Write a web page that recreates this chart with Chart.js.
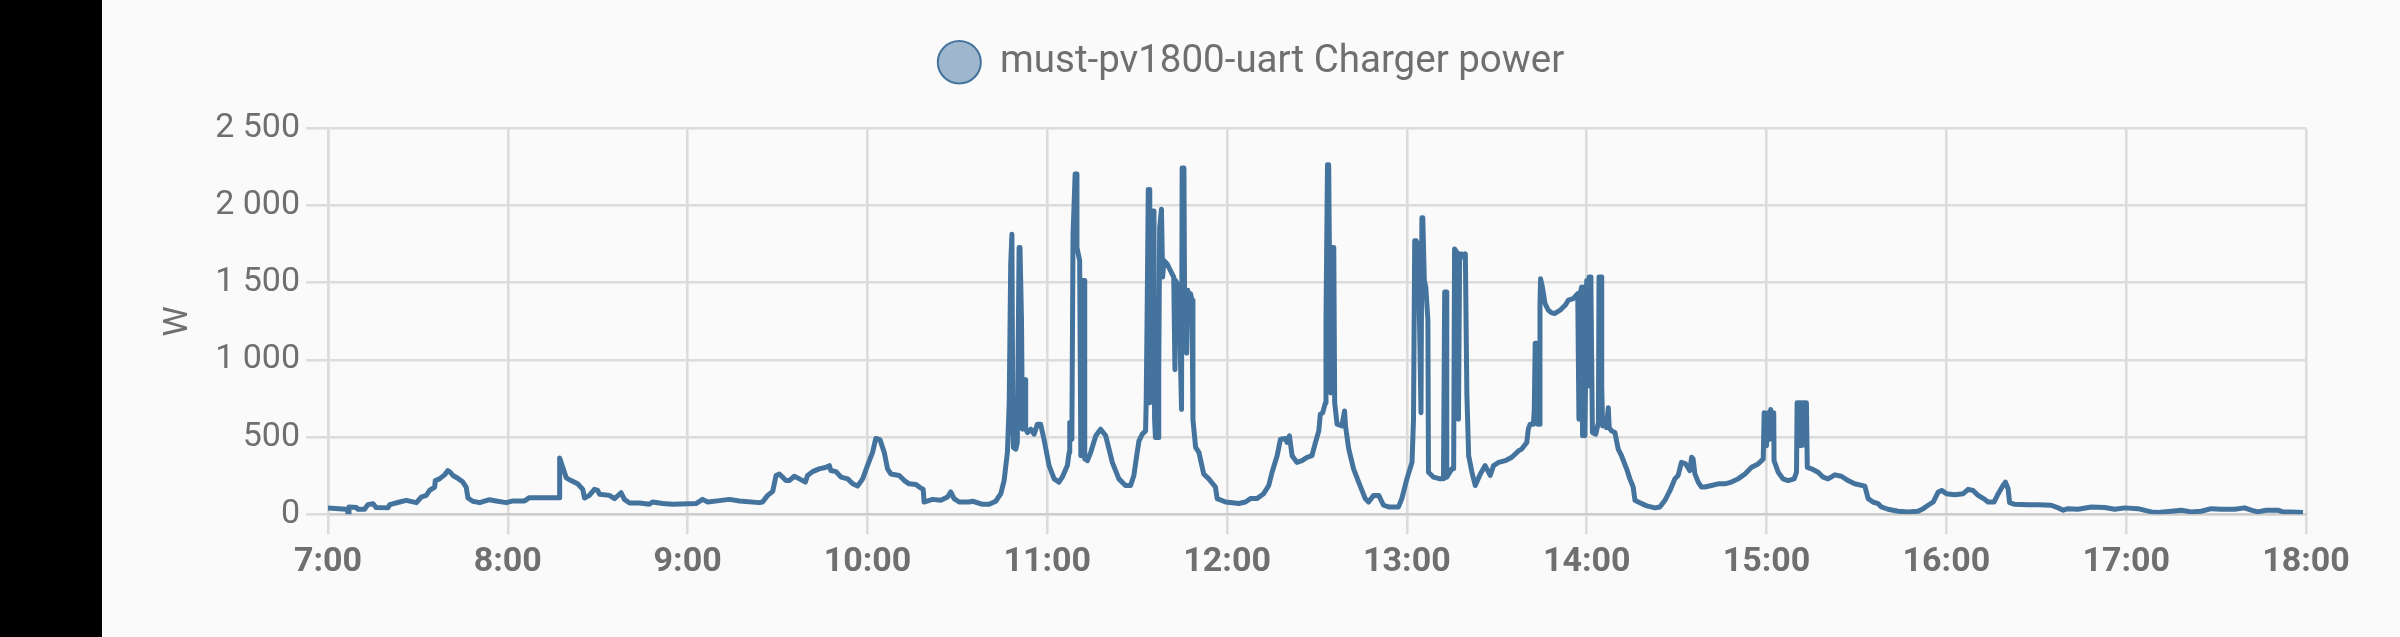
<!DOCTYPE html>
<html>
<head>
<meta charset="utf-8">
<script src="https://cdn.jsdelivr.net/npm/chart.js@4.4.1/dist/chart.umd.min.js"></script>
<style>
  html, body { margin: 0; padding: 0; background: #fafafa; width: 2400px; height: 637px; overflow: hidden; }
  #strip { position: absolute; left: 0; top: 0; width: 102px; height: 637px; background: #000; }
  #wrap { position: absolute; left: 102px; top: 0; width: 2298px; height: 637px; }
</style>
</head>
<body>
<div id="strip"></div>
<div id="wrap"><canvas id="c" width="2298" height="637"></canvas></div>
<script>
// Minutes after 7:00 for each reading
const minutes = [
  0, 6.1, 6.5, 6.7, 7.0, 9.5, 10, 12.2, 13.3, 15, 16.1, 20, 20.6, 23.9, 26.1, 29.5, 31.1, 32.8, 33.9, 35.6,
  35.8, 37.2, 38.9, 40, 40.8, 41.7, 43.3, 45, 46.1, 46.7, 48.3, 50.6, 53.9, 56.1, 59.5, 61.7, 65.6, 67.2, 77.2, 77.3,
  79.5, 81.1, 83.3, 85, 85.6, 87.2, 88.9, 90, 90.6, 93.9, 95.6, 97.8, 98.9, 100.6, 104, 107.2, 108.3, 111.7, 115, 122.8,
  125, 126.7, 130.6, 133.9, 137.3, 143.9, 145, 146.7, 148.4, 149.5, 150.6, 152.8, 153.9, 155.6, 157.3, 159.3, 160, 161.7, 163.9, 166.2,
  167.3, 167.8, 169.5, 171.2, 173.4, 175.1, 176.7, 178.4, 180.0, 181.7, 182.8, 184.2, 185.6, 186.7, 187.8, 190.6, 192.3, 193.9, 196.2, 197.3,
  198.6, 198.9, 201.7, 204.5, 206.7, 207.8, 208.9, 210.6, 213.9, 215.1, 218.4, 220.6, 222.8, 224.5, 225.6, 226.7, 227.3, 227.8, 228.2, 228.5,
  228.7, 229.5, 230.0, 230.6, 230.9, 231.4, 231.7, 232.3, 232.6, 232.8, 233.4, 234.5, 235.6, 236.7, 237.8, 238.9, 240.6, 242.3, 243.9, 245.0,
  246.7, 247.3, 247.5, 248.2, 248.6, 249.3, 249.7, 249.9, 250.8, 251.2, 251.5, 252.3, 252.5, 253.4, 254.5, 256.2, 257.8, 259.5, 261.7, 263.9,
  266.1, 267.8, 268.9, 270, 270.6, 271.7, 272.8, 273.0, 273.3, 273.7, 274.1, 274.2, 274.7, 275.0, 275.6, 275.8, 276.1, 277.0, 277.2, 277.5,
  278.1, 278.5, 278.9, 280.0, 281.1, 282.2, 282.6, 282.8, 283.9, 284.8, 285.0, 285.6, 285.8, 286.5, 286.9, 287.5, 287.8, 288.3, 288.6, 289.5,
  290.6, 292.2, 293.9, 296.1, 296.7, 299.5, 303.9, 306.1, 307.8, 310.0, 312.2, 313.9, 315.0, 316.7, 317.8, 319.5, 320.0, 320.8, 321.7, 323.3,
  325.0, 326.7, 328.3, 329.5, 330.6, 331.1, 331.9, 332.8, 333.0, 333.5, 333.9, 334.1, 334.6, 335.0, 335.6, 335.9, 336.7, 338.3, 339.2, 339.5,
  340.6, 342.2, 343.9, 346.1, 347.2, 348.9, 350.6, 352.2, 353.9, 357.2, 358.3, 360.0, 361.7, 362.2, 362.6, 363.1, 363.6, 364.2, 364.7, 365.0,
  365.3, 365.8, 366.3, 367.0, 367.2, 368.9, 371.1, 372.2, 372.6, 373.1, 373.3, 375.0, 375.6, 375.9, 376.7, 377.2, 377.6, 378.3, 378.9, 379.5,
  380.0, 380.6, 381.7, 382.8, 384.5, 386.1, 387.8, 388.9, 390.6, 392.8, 395.0, 397.2, 398.3, 400.0, 400.5, 401.1, 402.2, 402.5, 402.8, 403.3,
  403.6, 404.1, 404.4, 404.6, 405.2, 406.1, 407.2, 408.3, 409.4, 411.1, 412.8, 413.9, 415.5, 417.0, 417.4, 417.8, 418.3, 418.6, 419.1, 419.4,
  420.0, 420.3, 420.8, 421.1, 421.4, 421.9, 423.0, 423.9, 424.1, 424.8, 425.0, 425.3, 426.1, 426.6, 427.2, 427.5, 428.3, 429.4, 430.5, 431.6,
  433.3, 434.4, 435.5, 436.1, 437.2, 440.0, 442.8, 444.4, 446.1, 447.8, 449.4, 450.5, 451.6, 453.0, 454.4, 455.0, 455.5, 456.1, 457.2, 458.3,
  459.4, 461.6, 463.9, 466.1, 468.3, 470.5, 472.8, 475.0, 477.2, 478.9, 479.2, 480.0, 480.5, 481.1, 481.4, 481.9, 482.4, 482.5, 483.9, 485.5,
  487.2, 489.2, 490.0, 490.2, 490.5, 490.8, 491.4, 491.6, 492.0, 492.8, 493.0, 493.3, 493.6, 495.0, 497.2, 498.9, 500.5, 502.8, 505.0, 507.2,
  509.4, 512.8, 513.9, 515.5, 517.2, 518.3, 520.5, 523.9, 527.2, 530.5, 532.3, 533.9, 535.6, 537.3, 538.4, 540.0, 542.8, 545.6, 547.3, 548.9,
  550.6, 552.8, 553.9, 555.9, 557.3, 558.9, 559.7, 560.6, 561.1, 562.8, 567.3, 570.6, 575.0, 577.3, 579.0, 580.6, 583.9, 588.4, 592.8, 596.2,
  599.5, 603.9, 608.4, 610.6, 615.1, 618.4, 621.7, 625.0, 628.4, 631.7, 636.2, 639.5, 641.7, 643.9, 646.7, 650.6, 652.3, 655.0, 659.0
];
// Charger power, W
const watts = [
  41, 32, 32, 0, 47, 43, 32, 32, 62, 68, 43, 41, 62, 79, 90, 75, 111, 122, 154, 176,
  218, 229, 255, 283, 272, 251, 233, 208, 176, 105, 84, 75, 94, 86, 75, 86, 86, 107, 107, 364,
  236, 218, 197, 161, 105, 122, 161, 154, 129, 122, 101, 139, 96, 73, 73, 64, 79, 69, 64, 69,
  96, 79, 88, 96, 86, 75, 79, 122, 148, 251, 261, 218, 218, 246, 229, 208, 251, 276, 294, 304,
  315, 283, 276, 240, 229, 197, 182, 229, 315, 401, 491, 482, 401, 294, 261, 251, 218, 197, 193, 176,
  161, 79, 96, 90, 111, 144, 101, 79, 79, 84, 64, 64, 84, 133, 218, 401, 722, 1622, 1815, 615,
  433, 422, 465, 1729, 1729, 1258, 551, 829, 872, 551, 529, 551, 519, 583, 583, 486, 315, 229, 208, 240,
  315, 401, 594, 486, 1815, 2205, 2205, 1729, 1644, 379, 1515, 1515, 358, 347, 401, 508, 551, 508, 336, 229,
  186, 186, 251, 401, 476, 519, 540, 722, 1258, 2104, 2104, 722, 1044, 1965, 1965, 615, 497, 497, 915, 1858,
  1976, 1537, 1644, 1622, 1579, 1537, 936, 1515, 1472, 679, 2244, 2244, 1451, 1044, 1451, 1279, 1429, 1387, 615, 433,
  401, 261, 229, 176, 101, 79, 69, 79, 101, 101, 133, 186, 272, 379, 486, 491, 465, 508, 379, 336,
  347, 369, 379, 465, 540, 647, 658, 722, 1258, 2265, 2265, 1794, 786, 1729, 1729, 722, 583, 572, 669, 572,
  422, 294, 208, 101, 79, 122, 122, 58, 47, 47, 101, 229, 336, 615, 1772, 1772, 1751, 1258, 658, 1922,
  1922, 1515, 1472, 1258, 272, 240, 229, 229, 1440, 1440, 240, 294, 294, 1719, 1697, 615, 1687, 1687, 1665, 1687,
  786, 379, 272, 186, 261, 315, 251, 315, 336, 347, 369, 410, 422, 465, 551, 583, 583, 679, 1108, 1108,
  583, 583, 1365, 1526, 1472, 1365, 1322, 1305, 1301, 1322, 1354, 1387, 1397, 1429, 615, 1429, 1472, 508, 1472, 508,
  1515, 829, 1537, 1537, 1472, 529, 519, 594, 1537, 1537, 829, 572, 594, 561, 690, 561, 540, 529, 422, 379,
  294, 229, 176, 90, 79, 54, 41, 47, 90, 154, 229, 251, 336, 326, 283, 369, 358, 261, 208, 176,
  176, 186, 197, 197, 208, 229, 261, 304, 326, 358, 658, 444, 658, 486, 679, 508, 658, 347, 272, 229,
  218, 229, 272, 722, 444, 722, 722, 444, 722, 722, 444, 722, 304, 294, 272, 240, 229, 255, 246, 218,
  197, 182, 101, 79, 69, 47, 32, 19, 15, 19, 36, 58, 79, 144, 154, 133, 126, 133, 161, 154,
  122, 96, 79, 79, 133, 186, 208, 165, 75, 64, 62, 62, 58, 41, 26, 36, 32, 47, 43, 32,
  41, 36, 15, 11, 19, 26, 15, 19, 36, 32, 32, 41, 26, 15, 26, 26, 15, 15, 11
];
const hourLabels = ['7:00','8:00','9:00','10:00','11:00','12:00','13:00','14:00','15:00','16:00','17:00','18:00'];
const powerTickLabels = ['0','500','1 000','1 500','2 000','2 500'];
const seriesName = 'must-pv1800-uart Charger power';

const points = minutes.map((m, i) => ({ x: m, y: watts[i] }));
const textColor = '#6f6f6f';
const gridColor = '#dcdcdc';
const LEFT_PAD = 40;

// Extra room below the legend, before the plot area
const legendSpace = {
  id: 'legendSpace',
  beforeLayout(chart) {
    const lg = chart.legend;
    if (lg && !lg._patched) {
      const orig = lg.fit;
      lg.fit = function () { orig.call(this); this.height += 37; };
      lg._patched = true;
    }
  }
};

new Chart(document.getElementById('c'), {
  type: 'line',
  data: {
    datasets: [{
      label: seriesName,
      data: points,
      borderColor: '#44739e',
      backgroundColor: 'rgba(68,115,158,0.5)',
      borderWidth: 5,
      pointRadius: 0,
      tension: 0,
      fill: false,
      borderJoinStyle: 'round'
    }]
  },
  plugins: [legendSpace],
  options: {
    responsive: false,
    animation: false,
    devicePixelRatio: 1,
    parsing: false,
    layout: { padding: { left: LEFT_PAD, right: LEFT_PAD, top: 13, bottom: 46 } },
    plugins: {
      tooltip: { enabled: false },
      legend: {
        position: 'top',
        labels: {
          usePointStyle: true,
          pointStyle: 'circle',
          boxHeight: 30,
          pointStyleWidth: 43,
          padding: 30,
          color: textColor,
          font: { family: 'Roboto', size: 38.5 },
          generateLabels: (chart) => Chart.defaults.plugins.legend.labels.generateLabels(chart).map(l => Object.assign(l, { lineWidth: 2 }))
        }
      }
    },
    scales: {
      x: {
        type: 'linear',
        min: 0,
        max: 660,
        afterBuildTicks: (s) => { s.ticks = hourLabels.map((_, i) => ({ value: i * 60 })); },
        afterFit: (s) => { s.paddingRight = 94; },
        ticks: {
          callback: (v) => hourLabels[Math.round(v / 60)],
          color: textColor,
          font: { family: 'Roboto', size: 34, weight: 'bold' },
          maxRotation: 0,
          autoSkip: false,
          padding: 8
        },
        grid: { color: gridColor, lineWidth: 2.6, tickLength: 20 },
        border: { color: '#cdcdcd', width: 2.6 }
      },
      y: {
        min: 0,
        max: 2500,
        afterBuildTicks: (s) => { s.ticks = powerTickLabels.map((_, i) => ({ value: i * 500 })); },
        afterFit: (s) => { s.width = 226 - LEFT_PAD; },
        ticks: {
          callback: (v) => powerTickLabels[Math.round(v / 500)],
          color: textColor,
          font: { family: 'Roboto', size: 34 },
          padding: 6
        },
        title: {
          display: true,
          text: 'W',
          color: textColor,
          font: { family: 'Roboto', size: 34 },
          padding: { top: 16, bottom: 0 }
        },
        grid: { color: gridColor, lineWidth: 2.6, tickLength: 22 },
        border: { color: gridColor, width: 2.6 }
      }
    }
  }
});
</script>
</body>
</html>
